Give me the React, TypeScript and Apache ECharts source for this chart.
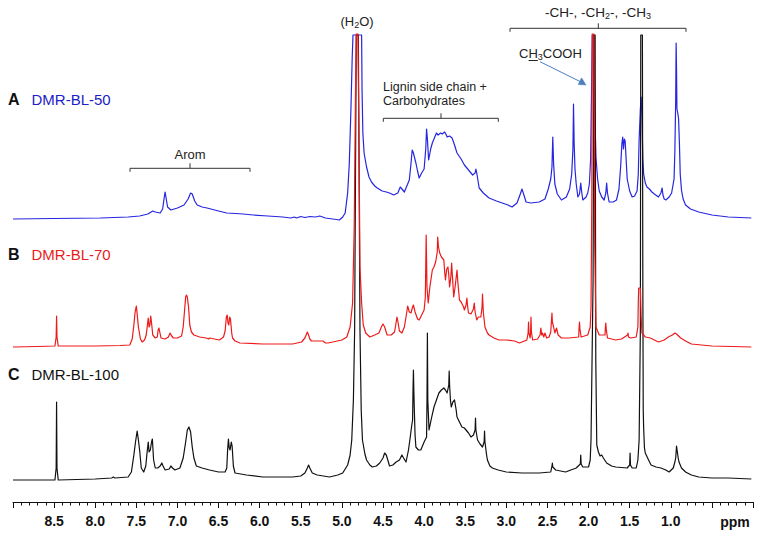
import React, { useEffect, useRef } from "react";
import * as echarts from "echarts";

// x axis (chemical shift, ppm)
const ppmMin = 0;
const ppmMax = 9;
const tickLabels = ["8.5", "8.0", "7.5", "7.0", "6.5", "6.0", "5.5", "5.0", "4.5", "4.0", "3.5", "3.0", "2.5", "2.0", "1.5", "1.0"];

// spectrum names
const spectrumNames = ["DMR-BL-50", "DMR-BL-70", "DMR-BL-100"];
const panelLetters = ["A", "B", "C"];

// [ppm, intensity above own baseline]
const spectrumA: [number, number][] = [
  [9.0, 0], [8.5, 0.5], [7.94, 1], [7.6, 2], [7.46, 3], [7.36, 5], [7.3, 8], [7.27, 7], [7.21, 6], [7.18, 10],
  [7.16, 22], [7.15, 27], [7.14, 22], [7.12, 12], [7.08, 9], [7.0, 11], [6.92, 14], [6.87, 20], [6.84, 26],
  [6.82, 25], [6.79, 18], [6.76, 14], [6.7, 12], [6.64, 11], [6.5, 8], [6.4, 6], [6.2, 5], [6.08, 4], [5.9, 3],
  [5.72, 2], [5.62, 1], [5.58, 2], [5.55, 1], [5.5, 2.5], [5.45, 1.5], [5.39, 2.5], [5.32, 2], [5.27, 3],
  [5.2, 1], [5.11, 0], [5.03, -1], [4.99, 2], [4.96, 6], [4.93, 26], [4.91, 55], [4.89, 110], [4.875, 160],
  [4.865, 184], [4.76, 184], [4.755, 130], [4.745, 86], [4.73, 66], [4.7, 52], [4.67, 42], [4.64, 37],
  [4.6, 33], [4.57, 31], [4.51, 28], [4.46, 27], [4.42, 26], [4.37, 24], [4.32, 26], [4.29, 32], [4.27, 30],
  [4.24, 27], [4.21, 33], [4.18, 39], [4.16, 55], [4.145, 69], [4.13, 66], [4.1, 56], [4.08, 48], [4.06, 41],
  [4.03, 46], [4.0, 50], [3.98, 70], [3.97, 90], [3.96, 80], [3.945, 59], [3.92, 70], [3.9, 76], [3.87, 82],
  [3.85, 86], [3.83, 84], [3.8, 86], [3.78, 85], [3.75, 87], [3.73, 84], [3.72, 82], [3.69, 83], [3.66, 81],
  [3.63, 74], [3.6, 66], [3.55, 60], [3.51, 54], [3.46, 49], [3.41, 44], [3.38, 46], [3.37, 50], [3.36, 46],
  [3.33, 31], [3.28, 26], [3.21, 21], [3.12, 18], [3.05, 16], [2.98, 14], [2.93, 12], [2.87, 16], [2.83, 25],
  [2.81, 30], [2.79, 25], [2.76, 17], [2.7, 16], [2.6, 17], [2.53, 20], [2.49, 30], [2.46, 40], [2.445, 52],
  [2.435, 82], [2.425, 55], [2.41, 35], [2.38, 25], [2.33, 19], [2.27, 22], [2.23, 30], [2.205, 45],
  [2.19, 70], [2.183, 115], [2.175, 75], [2.165, 50], [2.15, 35], [2.13, 22], [2.11, 25], [2.095, 36],
  [2.085, 28], [2.07, 19], [2.03, 22], [2.01, 26], [1.99, 35], [1.975, 60], [1.965, 120], [1.955, 184],
  [1.935, 184], [1.925, 110], [1.91, 62], [1.89, 40], [1.87, 28], [1.84, 22], [1.81, 19], [1.79, 26],
  [1.78, 36], [1.77, 26], [1.75, 17], [1.7, 17], [1.66, 19], [1.63, 30], [1.61, 52], [1.595, 75], [1.585, 82],
  [1.575, 70], [1.565, 80], [1.555, 78], [1.54, 55], [1.53, 40], [1.5, 28], [1.47, 22], [1.44, 23], [1.41, 28],
  [1.395, 45], [1.385, 79], [1.37, 110], [1.36, 122], [1.35, 100], [1.34, 60], [1.33, 45], [1.31, 36],
  [1.29, 32], [1.26, 30], [1.23, 27], [1.2, 25], [1.15, 22], [1.12, 26], [1.105, 31], [1.095, 24], [1.08, 20],
  [1.06, 19], [1.02, 22], [0.99, 26], [0.96, 40], [0.95, 69], [0.94, 120], [0.935, 176], [0.93, 150],
  [0.925, 110], [0.915, 106], [0.905, 100], [0.895, 76], [0.885, 45], [0.87, 29], [0.85, 20], [0.82, 14],
  [0.76, 10], [0.66, 7], [0.5, 4], [0.3, 2], [0.02, 1],
];

const spectrumB: [number, number][] = [
  [9.0, 0], [8.7, 0.5], [8.49, 1], [8.475, 10], [8.47, 31], [8.465, 10], [8.45, 1], [8.0, 1], [7.7, 1.5],
  [7.58, 2], [7.55, 8], [7.53, 22], [7.515, 35], [7.5, 41], [7.49, 33], [7.475, 20], [7.45, 8], [7.43, 5],
  [7.4, 7], [7.38, 12], [7.365, 22], [7.355, 29], [7.345, 20], [7.335, 22], [7.325, 31], [7.315, 24],
  [7.3, 12], [7.27, 9], [7.245, 10], [7.235, 17], [7.225, 19], [7.215, 15], [7.2, 9], [7.15, 8], [7.11, 10],
  [7.09, 14], [7.07, 11], [7.05, 9], [7.0, 9], [6.95, 11], [6.93, 20], [6.91, 40], [6.9, 50], [6.89, 52],
  [6.88, 50], [6.865, 40], [6.85, 22], [6.83, 15], [6.8, 12], [6.73, 10], [6.65, 9], [6.62, 8], [6.61, 9],
  [6.55, 8], [6.49, 7], [6.44, 10], [6.42, 16], [6.405, 30], [6.395, 32], [6.385, 24], [6.375, 22],
  [6.365, 30], [6.355, 28], [6.34, 14], [6.33, 9], [6.3, 6], [6.24, 4], [5.96, 3], [5.6, 3], [5.49, 5],
  [5.45, 9], [5.43, 13], [5.42, 15], [5.41, 13], [5.39, 8], [5.37, 6], [5.3, 6], [5.23, 6], [5.2, 4],
  [5.17, 4], [5.11, 5], [5.0, 7], [4.94, 10], [4.9, 20], [4.87, 44], [4.85, 120], [4.835, 250], [4.825, 313],
  [4.805, 313], [4.795, 230], [4.78, 80], [4.76, 44], [4.74, 22], [4.71, 14], [4.66, 10], [4.6, 12],
  [4.55, 14], [4.52, 20], [4.5, 23], [4.48, 20], [4.45, 12], [4.4, 12], [4.36, 15], [4.345, 22], [4.33, 30],
  [4.32, 26], [4.3, 16], [4.27, 14], [4.24, 20], [4.22, 30], [4.2, 41], [4.18, 35], [4.16, 34], [4.14, 40],
  [4.13, 42], [4.11, 35], [4.08, 28], [4.06, 27], [4.03, 32], [4.0, 37], [3.985, 50], [3.975, 112],
  [3.965, 60], [3.95, 44], [3.93, 60], [3.9, 77], [3.88, 80], [3.86, 85], [3.85, 90], [3.84, 95],
  [3.835, 110], [3.825, 100], [3.81, 94], [3.79, 90], [3.77, 88], [3.76, 87], [3.75, 75], [3.74, 67],
  [3.725, 78], [3.71, 80], [3.7, 72], [3.69, 60], [3.675, 70], [3.665, 84], [3.655, 70], [3.64, 50],
  [3.62, 62], [3.6, 77], [3.59, 65], [3.57, 47], [3.55, 45], [3.52, 40], [3.51, 37], [3.49, 42], [3.48, 49],
  [3.47, 40], [3.46, 34], [3.43, 33], [3.4, 38], [3.39, 44], [3.38, 35], [3.36, 27], [3.34, 30], [3.31, 30],
  [3.295, 40], [3.29, 53], [3.28, 35], [3.26, 20], [3.23, 14], [3.21, 12], [3.15, 9], [3.09, 7], [3.0, 7],
  [2.9, 6], [2.84, 4], [2.75, 7], [2.735, 14], [2.73, 25], [2.725, 14], [2.71, 9], [2.705, 15], [2.7, 30],
  [2.695, 15], [2.68, 7], [2.62, 8], [2.59, 12], [2.58, 19], [2.57, 12], [2.56, 14], [2.545, 10], [2.53, 14],
  [2.51, 9], [2.48, 10], [2.46, 15], [2.445, 34], [2.44, 25], [2.425, 20], [2.41, 14], [2.39, 19], [2.37, 12],
  [2.33, 9], [2.24, 9], [2.12, 10], [2.115, 20], [2.11, 25], [2.105, 18], [2.09, 10], [2.01, 12], [1.98, 20],
  [1.97, 40], [1.96, 150], [1.955, 313], [1.935, 313], [1.925, 100], [1.91, 20], [1.87, 12], [1.8, 12],
  [1.795, 20], [1.79, 24], [1.785, 18], [1.77, 9], [1.67, 7], [1.6, 8], [1.525, 12], [1.52, 14], [1.515, 10],
  [1.49, 9], [1.42, 10], [1.4, 20], [1.395, 45], [1.39, 59], [1.37, 59], [1.36, 30], [1.35, 14], [1.31, 10],
  [1.25, 9], [1.15, 5], [1.08, 7], [1.03, 10], [0.98, 12], [0.95, 14], [0.93, 13], [0.88, 9], [0.82, 6],
  [0.75, 3], [0.5, 1], [0.02, 0],
];

const spectrumC: [number, number][] = [
  [9.0, 0], [8.49, 0], [8.475, 12], [8.47, 78], [8.465, 12], [8.45, 0], [8.0, 1], [7.8, 2], [7.78, 3],
  [7.76, 2], [7.6, 3], [7.56, 8], [7.53, 25], [7.51, 38], [7.49, 49], [7.475, 40], [7.46, 30], [7.44, 12],
  [7.41, 8], [7.385, 14], [7.37, 27], [7.355, 38], [7.345, 28], [7.33, 30], [7.315, 38], [7.305, 41],
  [7.29, 20], [7.27, 12], [7.24, 12], [7.21, 14], [7.19, 17], [7.175, 14], [7.15, 10], [7.1, 11], [7.08, 14],
  [7.06, 12], [7.03, 10], [6.97, 12], [6.93, 22], [6.9, 38], [6.88, 50], [6.86, 53], [6.84, 48], [6.82, 33],
  [6.8, 22], [6.77, 14], [6.7, 12], [6.61, 10], [6.5, 8], [6.42, 8], [6.4, 12], [6.39, 30], [6.38, 41],
  [6.37, 32], [6.36, 30], [6.345, 38], [6.335, 34], [6.32, 14], [6.3, 7], [6.16, 5], [5.96, 3], [5.6, 3],
  [5.5, 4], [5.45, 7], [5.42, 12], [5.405, 15], [5.39, 12], [5.36, 7], [5.3, 5], [5.15, 3], [5.05, 5],
  [4.99, 7], [4.93, 15], [4.9, 25], [4.88, 40], [4.86, 80], [4.845, 150], [4.835, 300], [4.825, 445],
  [4.8, 445], [4.79, 300], [4.78, 150], [4.765, 70], [4.75, 40], [4.72, 26], [4.7, 20], [4.66, 15],
  [4.63, 13], [4.58, 14], [4.54, 17], [4.5, 22], [4.48, 27], [4.46, 25], [4.42, 14], [4.38, 15], [4.34, 18],
  [4.3, 20], [4.27, 25], [4.25, 22], [4.22, 18], [4.19, 30], [4.17, 42], [4.15, 55], [4.14, 60], [4.135, 90],
  [4.13, 110], [4.125, 90], [4.12, 73], [4.11, 45], [4.1, 33], [4.07, 30], [4.04, 30], [4.0, 38], [3.97, 43],
  [3.965, 80], [3.96, 147], [3.955, 80], [3.94, 50], [3.91, 62], [3.88, 73], [3.85, 80], [3.82, 87],
  [3.79, 90], [3.76, 92], [3.74, 90], [3.72, 87], [3.7, 95], [3.695, 109], [3.69, 95], [3.68, 80], [3.67, 73],
  [3.65, 78], [3.63, 80], [3.61, 70], [3.6, 63], [3.57, 58], [3.54, 53], [3.51, 52], [3.49, 50], [3.46, 47],
  [3.43, 43], [3.4, 45], [3.38, 50], [3.375, 62], [3.37, 50], [3.35, 40], [3.32, 36], [3.29, 33], [3.27, 38],
  [3.265, 49], [3.26, 38], [3.24, 25], [3.23, 20], [3.2, 14], [3.17, 12], [3.1, 10], [3.0, 8], [2.81, 7],
  [2.6, 7], [2.46, 8], [2.445, 14], [2.44, 17], [2.435, 13], [2.4, 10], [2.28, 8], [2.15, 12], [2.1, 16],
  [2.095, 25], [2.09, 16], [2.07, 13], [2.0, 13], [1.98, 20], [1.97, 40], [1.945, 200], [1.935, 445],
  [1.92, 445], [1.912, 120], [1.9, 35], [1.88, 28], [1.86, 24], [1.84, 25], [1.82, 22], [1.78, 17],
  [1.72, 14], [1.67, 13], [1.53, 12], [1.5, 15], [1.495, 27], [1.49, 15], [1.47, 12], [1.42, 12], [1.4, 20],
  [1.385, 40], [1.37, 150], [1.365, 445], [1.345, 445], [1.34, 200], [1.335, 70], [1.33, 52], [1.32, 32],
  [1.31, 27], [1.27, 20], [1.24, 15], [1.18, 13], [1.12, 12], [1.06, 10], [1.02, 8], [0.97, 12], [0.95, 18],
  [0.94, 22], [0.93, 34], [0.92, 28], [0.91, 22], [0.9, 18], [0.87, 12], [0.82, 8], [0.75, 5], [0.66, 3],
  [0.5, 2], [0.3, 2], [0.02, 1],
];

const FONT = "'Liberation Sans', Arial, Helvetica, sans-serif";

export default function App() {
  const ref = useRef<HTMLDivElement>(null);

  useEffect(() => {
    if (!ref.current) return;
    const chart = echarts.init(ref.current, null, { renderer: "svg" });

    const baselines = [283, 155, 22];
    const colors = ["#2626e0", "#ee1a1a", "#111111"];
    const labelColors = ["#1c1cc8", "#e81c1c", "#111111"];
    const spectra = [spectrumA, spectrumB, spectrumC];

    const shifted = (arr: [number, number][], base: number) => arr.map(([p, v]) => [p, v + base]);

    // draw order: blue, black, red
    const order = [0, 2, 1];
    const series = order.map((i) => ({
      type: "line",
      name: spectrumNames[i],
      data: shifted(spectra[i], baselines[i]),
      showSymbol: false,
      symbol: "none",
      lineStyle: { color: colors[i], width: 1.2, join: "round" },
      itemStyle: { color: colors[i] },
      z: 2,
      silent: true,
    }));

    const txt = (x: number, y: number, text: string, opts: any = {}) => ({
      type: "text",
      x,
      y,
      style: {
        text,
        fontFamily: FONT,
        fontSize: opts.fontSize ?? 13,
        fontWeight: opts.fontWeight ?? "normal",
        fill: opts.fill ?? "#222",
        align: opts.align ?? "center",
        verticalAlign: "middle",
        textAlign: opts.align ?? "center",
        textVerticalAlign: "middle",
        rich: opts.rich,
      },
      z: 10,
    });

    const bracket = (x1: number, x2: number, y: number) => ({
      type: "polyline",
      shape: { points: [[x1, y + 3.5], [x1, y], [x2, y], [x2, y + 3.5]] },
      style: { stroke: "#333", lineWidth: 1, fill: null },
      z: 10,
    });
    const centerTick = (xc: number, y: number) => ({
      type: "line",
      shape: { x1: xc, y1: y, x2: xc, y2: y - 5 },
      style: { stroke: "#333", lineWidth: 1 },
      z: 10,
    });

    const subRich = (size: number) => ({
      s: { fontSize: size, fontFamily: FONT, fill: "#222", padding: [7, 0, 0, 0] },
    });

    const labelYs = [99, 254, 374];
    const graphics: any[] = [];
    labelYs.forEach((y, i) => {
      graphics.push(txt(8, y, panelLetters[i], { fontSize: 16, fontWeight: "bold", fill: "#111", align: "left" }));
      graphics.push(txt(31.5, y, spectrumNames[i], { fontSize: 15, fill: labelColors[i], align: "left" }));
    });

    graphics.push(txt(190, 154, "Arom", { fontSize: 13 }));
    graphics.push(bracket(130, 250, 168.3));
    graphics.push(centerTick(190, 168.3));

    graphics.push(txt(357, 21, "(H{s|2}O)", { fontSize: 13, rich: subRich(9) }));

    graphics.push(txt(383, 87, "Lignin side chain +", { fontSize: 12.5, align: "left" }));
    graphics.push(txt(383, 101, "Carbohydrates", { fontSize: 12.5, align: "left" }));
    graphics.push(bracket(383.3, 498.3, 118.3));
    graphics.push(centerTick(441, 118.3));

    graphics.push(txt(598, 12.5, "-CH-, -CH{s|2}-, -CH{s|3}", { fontSize: 13.5, rich: subRich(9) }));
    graphics.push(bracket(510, 686, 28.3));
    graphics.push(centerTick(598.3, 28.3));

    graphics.push(txt(519, 53, "CH{s|3}COOH", { fontSize: 13, align: "left", rich: subRich(9) }));
    graphics.push({
      type: "line",
      shape: { x1: 528.6, y1: 60.5, x2: 537.8, y2: 60.5 },
      style: { stroke: "#222", lineWidth: 1 },
      z: 10,
    });
    graphics.push({
      type: "line",
      shape: { x1: 540, y1: 61.7, x2: 580, y2: 81.5 },
      style: { stroke: "#4a7ebf", lineWidth: 1 },
      z: 10,
    });
    graphics.push({
      type: "polygon",
      shape: { points: [[586, 85], [578.2, 84.6], [581.6, 77.8]] },
      style: { fill: "#4a7ebf", stroke: "#4a7ebf", lineWidth: 0.5 },
      z: 10,
    });

    graphics.push(txt(735, 521.5, "ppm", { fontSize: 14, fontWeight: "bold", fill: "#111" }));

    const labelSet = new Set(tickLabels);

    chart.setOption({
      animation: false,
      backgroundColor: "#ffffff",
      grid: { left: 13, right: 12, top: 0, bottom: 38, containLabel: false },
      xAxis: {
        type: "value",
        min: ppmMin,
        max: ppmMax,
        interval: 0.5,
        inverse: true,
        position: "bottom",
        axisLine: { show: true, onZero: false, lineStyle: { color: "#111", width: 1 } },
        axisTick: { show: true, length: 6, lineStyle: { color: "#111", width: 1 } },
        minorTick: { show: true, splitNumber: 5, length: 3.5, lineStyle: { color: "#111", width: 1 } },
        splitLine: { show: false },
        minorSplitLine: { show: false },
        axisLabel: {
          margin: 12,
          fontFamily: FONT,
          fontSize: 14,
          fontWeight: "bold",
          color: "#111",
          showMinLabel: true,
          showMaxLabel: true,
          formatter: (v: number) => {
            const s = (Math.round(v * 10) / 10).toFixed(1);
            return labelSet.has(s) ? s : "";
          },
        },
      },
      yAxis: {
        type: "value",
        min: 0,
        max: 502,
        show: false,
        splitLine: { show: false },
      },
      series,
      graphic: graphics,
    });

    return () => chart.dispose();
  }, []);

  return (
    <div
      ref={ref}
      style={{ position: "fixed", left: 0, top: 0, width: 765, height: 540, background: "#fff" }}
    />
  );
}
